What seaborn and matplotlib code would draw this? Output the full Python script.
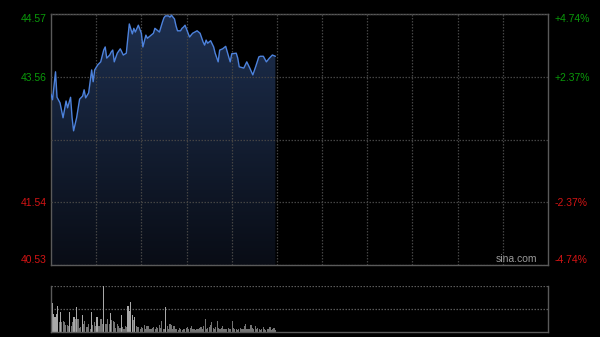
import numpy as np
import pandas as pd
import matplotlib
matplotlib.use("Agg")
import matplotlib.pyplot as plt
from matplotlib.patches import PathPatch
import seaborn as sns

# ---------------- data ----------------
minutes = [0, 1, 3, 4, 6, 8, 10, 11, 13, 14, 15, 17, 19, 21, 22, 23, 25, 27, 28, 29,
           31, 33, 35, 36, 37, 39, 40, 41, 42, 44, 46, 48, 50, 51, 52, 54, 55, 56, 58, 60,
           61, 63, 64, 66, 68, 69, 71, 72, 74, 75, 76, 78, 79, 80, 82, 83, 84, 86, 87, 88,
           89, 92, 94, 97, 99, 101, 102, 103, 104, 106, 108, 109, 111, 112, 114, 116, 118, 119, 120, 123,
           124, 125, 128, 130, 132, 134, 136, 138, 139, 141, 143, 145, 147, 149]
prices = [43.28, 43.19, 43.64, 43.23, 43.14, 42.90, 43.17, 43.06, 43.23, 42.90,
          42.69, 42.90, 43.20, 43.25, 43.35, 43.22, 43.30, 43.67, 43.48, 43.67,
          43.75, 43.80, 43.99, 44.04, 43.86, 43.91, 43.96, 43.99, 43.80, 43.94,
          44.01, 43.91, 43.94, 44.18, 44.41, 44.25, 44.34, 44.28, 44.39, 44.26,
          44.04, 44.23, 44.18, 44.22, 44.26, 44.34, 44.30, 44.28, 44.44, 44.51,
          44.54, 44.54, 44.52, 44.55, 44.49, 44.38, 44.30, 44.30, 44.34, 44.36,
          44.39, 44.20, 44.26, 44.30, 44.26, 44.12, 44.07, 44.15, 44.10, 44.14,
          44.04, 43.94, 43.80, 43.99, 44.01, 44.05, 43.88, 43.80, 43.93, 43.94,
          43.86, 43.72, 43.70, 43.80, 43.70, 43.59, 43.73, 43.88, 43.89, 43.89,
          43.80, 43.86, 43.91, 43.89]

volumes = [0.75, 0.63, 0.39, 0.32, 0.39, 0.57, 0.21, 0.43, 0.21, 0.23, 0.21, 0.16, 0.16, 0.14, 0.44,
           0.14, 0.21, 0.32, 0.29, 0.54, 0.29, 0.09, 0.11, 0.37, 0.18, 0.23, 0.11, 0.11, 0.18, 0.07,
           0.43, 0.16, 0.21, 0.14, 0.32, 0.14, 0.14, 0.29, 0.18, 1.00, 0.18, 0.18, 0.29, 0.18, 0.41,
           0.27, 0.23, 0.21, 0.09, 0.18, 0.14, 0.09, 0.36, 0.11, 0.07, 0.14, 0.11, 0.56, 0.46, 0.66,
           0.36, 0.27, 0.32, 0.14, 0.11, 0.11, 0.07, 0.11, 0.09, 0.16, 0.07, 0.14, 0.14, 0.07, 0.06,
           0.09, 0.11, 0.07, 0.11, 0.09, 0.16, 0.09, 0.23, 0.07, 0.07, 0.54, 0.13, 0.07, 0.18, 0.16,
           0.07, 0.14, 0.06, 0.07, 0.04, 0.09, 0.06, 0.04, 0.06, 0.07, 0.09, 0.11, 0.07, 0.09, 0.14,
           0.07, 0.06, 0.04, 0.06, 0.07, 0.09, 0.11, 0.07, 0.14, 0.29, 0.07, 0.09, 0.11, 0.16, 0.21,
           0.09, 0.07, 0.11, 0.23, 0.09, 0.06, 0.09, 0.14, 0.07, 0.06, 0.07, 0.09, 0.06, 0.07, 0.23,
           0.09, 0.06, 0.07, 0.04, 0.07, 0.09, 0.06, 0.07, 0.14, 0.18, 0.07, 0.06, 0.07, 0.16, 0.09,
           0.07, 0.13, 0.06, 0.09, 0.07, 0.04, 0.06, 0.11, 0.07, 0.04, 0.06, 0.07, 0.11, 0.04, 0.07,
           0.09, 0.04]

price_ticks = [40.53, 41.54, 42.55, 43.56, 44.57]
price_labels = ["40.53", "41.54", "", "43.56", "44.57"]
pct_labels = ["-4.74%", "-2.37%", "", "+2.37%", "+4.74%"]
label_colors = ["#d41414", "#d41414", "#000000", "#0a9a0a", "#0a9a0a"]
time_grid = [30, 60, 90, 120, 150, 180, 210, 240, 270, 300]
session_minutes = 330

# ---------------- style ----------------
sns.set_style("dark")
plt.rcParams["font.family"] = ["Liberation Sans", "DejaVu Sans"]
plt.rcParams["font.size"] = 7.5

fig = plt.figure(figsize=(6, 3.37), dpi=100, facecolor="black")
ax = fig.add_axes([0.085, 0.2136, 0.8283, 0.7448])
axv = fig.add_axes([0.085, 0.0148, 0.8283, 0.1365])

spine_c = "#5a5a5a"
grid_c = "#444444"

# ---------------- price panel ----------------
ax.set_facecolor("black")
ax.set_xlim(0, session_minutes)
ax.set_ylim(price_ticks[0], price_ticks[-1])

df = pd.DataFrame({"minute": minutes, "price": prices})

# gradient fill under line
poly = ax.fill_between(df["minute"], df["price"], price_ticks[0], color="none", zorder=1)
grad = np.linspace(0, 1, 256)[:, None]
top_c = np.array([0.115, 0.185, 0.31])
bot_c = np.array([0.035, 0.05, 0.085])
rgb = top_c[None, None, :] * (1 - grad[:, :, None]) + bot_c[None, None, :] * grad[:, :, None]
img = ax.imshow(rgb, extent=[0, session_minutes, price_ticks[0], price_ticks[-1]],
                aspect="auto", origin="upper", zorder=1)
clip = PathPatch(poly.get_paths()[0], transform=ax.transData, facecolor="none", edgecolor="none")
ax.add_patch(clip)
img.set_clip_path(clip)

sns.lineplot(data=df, x="minute", y="price", ax=ax, color="#4d82dc", linewidth=1.0, zorder=3)

ax.set_xticks(time_grid)
ax.set_xticklabels([])
ax.set_yticks(price_ticks)
ax.set_yticklabels(price_labels)
ax.set_xlabel("")
ax.set_ylabel("")
ax.grid(True, color=grid_c, linestyle=(0, (1.2, 1.2)), linewidth=0.9, zorder=2)
ax.set_axisbelow(False)
ax.tick_params(axis="both", length=0, pad=3)
for lbl, c in zip(ax.get_yticklabels(), label_colors):
    lbl.set_color(c)
ax.get_yticklabels()[0].set_va("bottom")
ax.get_yticklabels()[-1].set_va("top")
for s in ax.spines.values():
    s.set_visible(True)
    s.set_color(spine_c)
    s.set_linewidth(1)

axr = ax.twinx()
axr.set_ylim(price_ticks[0], price_ticks[-1])
axr.set_yticks(price_ticks)
axr.set_yticklabels(pct_labels)
axr.grid(False)
axr.tick_params(axis="y", length=0, pad=5)
for lbl, c in zip(axr.get_yticklabels(), label_colors):
    lbl.set_color(c)
axr.get_yticklabels()[0].set_va("bottom")
axr.get_yticklabels()[-1].set_va("top")
for s in axr.spines.values():
    s.set_visible(False)

ax.text(0.978, 0.006, "sina.com", transform=ax.transAxes, ha="right", va="bottom",
        color="#9a9a9a", fontsize=7.5, zorder=5)

# ---------------- volume panel ----------------
axv.set_facecolor("black")
vol_x = np.linspace(0, minutes[-1], len(volumes))
vmax = max(volumes)
shade = ["#a8a8a8" if v >= 0.3 else "#747474" for v in volumes]
axv.bar(vol_x, volumes, width=0.75, color=shade, linewidth=0, zorder=2)
axv.set_xlim(0, session_minutes)
axv.set_ylim(0, vmax)
axv.set_xticks([])
axv.set_yticks([vmax / 2, vmax])
axv.set_yticklabels([])
axv.tick_params(length=0)
axv.grid(False)
axv.yaxis.grid(True, color="#5a5a5a", linestyle=(0, (1.2, 1.2)), linewidth=0.9, zorder=1)
for name, s in axv.spines.items():
    s.set_visible(name != "top")
    s.set_color(spine_c)
    s.set_linewidth(1)

fig.savefig("out.png", dpi=100, facecolor="black")
